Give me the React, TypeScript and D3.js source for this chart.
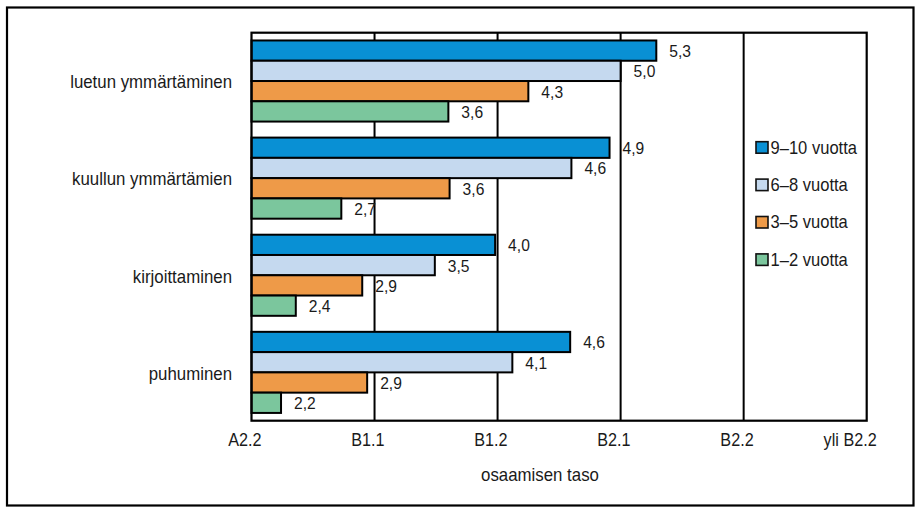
import { useEffect, useRef } from 'react';
import * as d3 from 'd3';

const categories = ['luetun ymmärtäminen', 'kuullun ymmärtämien', 'kirjoittaminen', 'puhuminen'];
const seriesNames = ['9–10 vuotta', '6–8 vuotta', '3–5 vuotta', '1–2 vuotta'];
const years910 = [5.29, 4.91, 3.98, 4.59];
const years68 = [5.0, 4.6, 3.49, 4.12];
const years35 = [4.25, 3.61, 2.9, 2.94];
const years12 = [3.6, 2.73, 2.36, 2.24];
const levelValues = [2, 3, 4, 5, 6, 7];
const levelLabels = ['A2.2', 'B1.1', 'B1.2', 'B2.1', 'B2.2', 'yli B2.2'];
const colors = ['#0990d4', '#c5d9ef', '#ee9a48', '#7bc69d'];

const FONT = '"Liberation Sans", Arial, sans-serif';
const SQUEEZE = 0.92; // the source text is a bit condensed

export default function App() {
  const svgRef = useRef<SVGSVGElement>(null);

  useEffect(() => {
    if (!svgRef.current) return;
    const width = 922;
    const height = 511;
    const svg = d3.select(svgRef.current);
    svg.selectAll('*').remove();
    svg.attr('width', width).attr('height', height);

    const left = 251.5, right = 866.7, top = 32.7, bottom = 420.7;
    const series = [years910, years68, years35, years12];

    const x = d3.scaleLinear().domain([2, 7]).range([left, right]);
    const y = d3.scaleBand<string>().domain(categories).range([top, bottom])
      .paddingInner(0.165).paddingOuter(0.08);
    const ySub = d3.scaleBand<string>().domain(seriesNames).range([0, y.bandwidth()]);

    const at = (tx: number, ty: number) => `translate(${tx},${ty}) scale(${SQUEEZE},1)`;

    // outer frame
    svg.append('rect').attr('x', 7).attr('y', 7.5).attr('width', 906.5).attr('height', 498)
      .attr('fill', 'white').attr('stroke', '#000').attr('stroke-width', 2.2);

    // gridlines
    svg.append('g')
      .selectAll('line')
      .data(levelValues.slice(1, -1))
      .enter().append('line')
      .attr('x1', (d) => x(d)).attr('x2', (d) => x(d))
      .attr('y1', top).attr('y2', bottom)
      .attr('stroke', '#000').attr('stroke-width', 2);

    // bars
    const groups = svg.append('g').selectAll('g')
      .data(categories).enter().append('g')
      .attr('transform', (d) => `translate(0,${y(d)})`);

    groups.each(function (cat, ci) {
      const g = d3.select(this);
      seriesNames.forEach((s, si) => {
        const v = series[si][ci];
        g.append('rect')
          .attr('x', x(2)).attr('y', ySub(s) ?? 0)
          .attr('width', x(v) - x(2)).attr('height', ySub.bandwidth())
          .attr('fill', colors[si]).attr('stroke', '#000').attr('stroke-width', 2);
        g.append('text')
          .attr('transform', at(x(v) + 13, (ySub(s) ?? 0) + ySub.bandwidth() / 2))
          .attr('dy', '0.38em')
          .attr('font-family', FONT).attr('font-size', 17).attr('fill', '#1a1a1a')
          .text(v.toFixed(1).replace('.', ','));
      });
    });

    // plot border
    svg.append('rect').attr('x', left).attr('y', top)
      .attr('width', right - left).attr('height', bottom - top)
      .attr('fill', 'none').attr('stroke', '#000').attr('stroke-width', 2.2);

    // category labels
    svg.append('g').selectAll('text')
      .data(categories).enter().append('text')
      .attr('transform', (d) => at(left - 19.5, (y(d) ?? 0) + y.bandwidth() / 2))
      .attr('dy', '0.4em')
      .attr('text-anchor', 'end')
      .attr('font-family', FONT).attr('font-size', 18.3).attr('fill', '#1a1a1a')
      .text((d) => d);

    // x tick labels
    svg.append('g').selectAll('text')
      .data(levelValues).enter().append('text')
      .attr('transform', (d) => at(x(d) + 10, 446))
      .attr('text-anchor', 'end')
      .attr('font-family', FONT).attr('font-size', 17.6).attr('fill', '#1a1a1a')
      .text((_, i) => levelLabels[i]);

    svg.append('text')
      .attr('transform', at(540, 480.5))
      .attr('text-anchor', 'middle')
      .attr('font-family', FONT).attr('font-size', 18.3).attr('fill', '#1a1a1a')
      .text('osaamisen taso');

    // legend
    const legend = svg.append('g').selectAll('g')
      .data(seriesNames).enter().append('g')
      .attr('transform', (_, i) => `translate(756,${141.7 + i * 37.4})`);
    legend.append('rect')
      .attr('width', 12).attr('height', 11.5)
      .attr('fill', (_, i) => colors[i]).attr('stroke', '#111').attr('stroke-width', 1.6);
    legend.append('text')
      .attr('transform', at(14.5, 11.8))
      .attr('font-family', FONT).attr('font-size', 18).attr('fill', '#1a1a1a')
      .text((d) => d);
  }, []);

  return (
    <div style={{ position: 'absolute', left: 0, top: 0, width: 922, height: 511, background: 'white' }}>
      <svg ref={svgRef} style={{ display: 'block' }} />
    </div>
  );
}
